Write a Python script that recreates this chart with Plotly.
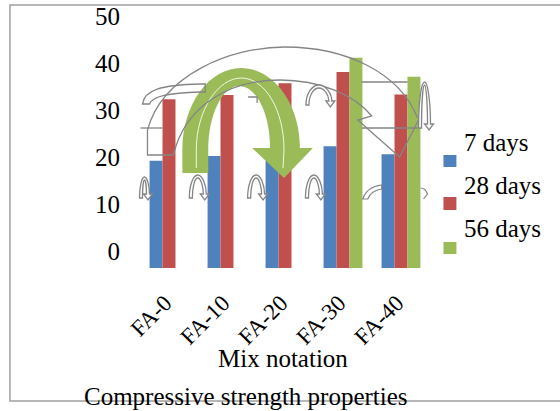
import plotly.graph_objects as go

# ---------------- data ----------------
categories = ["FA-0", "FA-10", "FA-20", "FA-30", "FA-40"]
series_names = ["7 days", "28 days", "56 days"]
strength_7d = [19.2, 20.2, 19.4, 22.3, 20.6]
strength_28d = [32.3, 33.2, 35.7, 38.1, 33.3]
strength_56d = [None, None, None, 41.1, 37.1]
y_tick_values = [0, 10, 20, 30, 40, 50]
x_title = "Mix notation"
chart_title = "Compressive strength properties"

colors = ["#4F81BD", "#C0504D", "#9BBB59"]
FONT = "Liberation Serif"
FS = 25

# ---------------- layout geometry (pixels) ----------------
W, H = 560, 411
L, R, T, B = 139.5, 430.5, 13, 268
Y_MIN, Y_MAX = -3.62, 50.64   # bars in the picture start below the "0" label


def px(x):
    return (x - L) / (R - L)


def py(y):
    return (B - y) / (B - T)


def P(x, y):
    return f"{px(x):.5f},{py(y):.5f}"


def path(*segs):
    out = []
    for s in segs:
        if isinstance(s, str):
            out.append(s)
        else:
            out.append(P(*s))
    return " ".join(out)


fig = go.Figure()
for name, vals, col in zip(series_names, [strength_7d, strength_28d, strength_56d], colors):
    fig.add_trace(go.Bar(
        x=categories,
        y=[None if v is None else v - Y_MIN for v in vals],
        base=Y_MIN,
        name=name,
        marker=dict(color=col, line=dict(width=0)),
        customdata=vals,
        hovertemplate="%{x}: %{customdata}<extra>" + name + "</extra>",
        showlegend=False,
    ))

shapes = []
GRAY = "#858585"

# big green curved arrow (with a thin gap line in its middle)
green_arrow = path("M", (182, 173), "L", (182, 150),
                   "C", (182, 104.7), (208.4, 68), (241, 68),
                   "C", (273.6, 68), (300, 103.7), (300, 148),
                   "L", (313, 148), "L", (284, 178), "L", (252, 148), "L", (270, 148),
                   "C", (270, 113), (256, 86), (239, 86),
                   "C", (222, 86), (208, 115), (208, 150),
                   "L", (208, 173), "Z")
shapes.append(dict(type="path", xref="paper", yref="paper", path=green_arrow,
                   fillcolor=colors[2], line=dict(width=0), layer="above"))
green_gap = path("M", (196, 168), "L", (196, 150),
                 "C", (196, 110), (218, 78), (241, 78),
                 "C", (265, 78), (284, 110), (284, 150), "L", (283, 168))
shapes.append(dict(type="path", xref="paper", yref="paper", path=green_gap,
                   line=dict(color="rgba(255,255,255,0.85)", width=1), layer="above"))

# big gray curved-arrow outline
big_outer = path("M", (147, 130), "C", (162, 75), (230, 47), (285, 47),
                 "C", (345, 47), (400, 72), (418, 118))
big_inner = path("M", (173, 155), "C", (185, 105), (230, 80), (280, 80),
                 "C", (320, 80), (355, 95), (372, 116),
                 "L", (358, 120), "L", (400, 157), "L", (420, 118))
big_end = path("M", (147, 130), "L", (147, 155), "L", (173, 155))
for p in [big_outer, big_inner, big_end,
          path("M", (140, 128), "L", (162, 128)),
          path("M", (362, 82), "L", (408, 82)),
          path("M", (362, 128), "L", (418, 128))]:
    shapes.append(dict(type="path", xref="paper", yref="paper", path=p,
                       line=dict(color=GRAY, width=1.3), layer="above"))

# flat curved band near top-left
flat = path("M", (142, 104), "C", (144, 90), (160, 85), (200, 84),
            "L", (205, 84), "L", (205, 92), "L", (200, 92),
            "C", (168, 93), (152, 96), (149, 104), "Z")
shapes.append(dict(type="path", xref="paper", yref="paper", path=flat,
                   line=dict(color=GRAY, width=1.3), layer="above"))
shapes.append(dict(type="path", xref="paper", yref="paper",
                   path=path("M", (248, 97), "L", (257, 97), "L", (257, 103)),
                   line=dict(color=GRAY, width=1.3), layer="above"))


def u_arrow(cx, yb, rx, ry, t=3.0):
    k = 0.5523
    ri, rh = rx - t, ry - t
    return path("M", (cx - rx, yb),
                "C", (cx - rx, yb - k * ry), (cx - k * rx, yb - ry), (cx, yb - ry),
                "C", (cx + k * rx, yb - ry), (cx + rx, yb - k * ry), (cx + rx, yb - 4),
                "L", (cx + rx + 3, yb - 4), "L", (cx + rx - 1.5, yb + 2),
                "L", (cx + ri - 3, yb - 4), "L", (cx + ri, yb - 4),
                "C", (cx + ri, yb - k * rh), (cx + k * ri, yb - rh), (cx, yb - rh),
                "C", (cx - k * ri, yb - rh), (cx - ri, yb - k * rh), (cx - ri, yb), "Z")


for cx, yb, rx, ry in [(144, 198, 5, 21), (197.5, 198, 8.5, 23), (256, 198, 8.5, 23),
                       (314, 198, 8.5, 23), (319, 105, 13, 20), (425, 128, 6, 46)]:
    shapes.append(dict(type="path", xref="paper", yref="paper", path=u_arrow(cx, yb, rx, ry),
                       fillcolor="rgba(255,255,255,0.9)", line=dict(color=GRAY, width=1.3),
                       layer="above"))

# small curved pieces near FA-40
shapes.append(dict(type="path", xref="paper", yref="paper",
                   path=path("M", (363, 199), "C", (366, 190), (373, 186), (382, 185),
                             "L", (382, 189), "C", (375, 190), (370, 194), (368, 199), "Z"),
                   fillcolor="white", line=dict(color=GRAY, width=1.2), layer="above"))
shapes.append(dict(type="path", xref="paper", yref="paper",
                   path=path("M", (421, 188), "C", (425, 188), (427, 191), (428, 194),
                             "L", (424, 199)),
                   line=dict(color=GRAY, width=1.2), layer="above"))

# outer chart border
shapes.append(dict(type="rect", xref="paper", yref="paper",
                   x0=px(9), x1=px(566), y0=py(401), y1=py(5),
                   line=dict(color="#a0a0a0", width=1.5), layer="above"))

# legend (squares sit below their labels in the picture)
legend_sq_y = [(155, 167), (197, 210), (242, 254)]
legend_txt_y = [142, 185, 228]
annotations = []
for name, col, (y0, y1), ty in zip(series_names, colors, legend_sq_y, legend_txt_y):
    shapes.append(dict(type="rect", xref="paper", yref="paper",
                       x0=px(444), x1=px(457), y0=py(y1), y1=py(y0),
                       fillcolor=col, line=dict(width=0)))
    annotations.append(dict(text=name, xref="paper", yref="paper", x=px(463), y=py(ty),
                            xanchor="left", yanchor="middle", showarrow=False,
                            font=dict(family=FONT, size=FS, color="black")))

annotations.append(dict(text=x_title, xref="paper", yref="paper", x=px(283), y=py(358),
                        xanchor="center", yanchor="middle", showarrow=False,
                        font=dict(family=FONT, size=FS, color="black")))
annotations.append(dict(text=chart_title, xref="paper", yref="paper", x=px(246), y=py(396),
                        xanchor="center", yanchor="middle", showarrow=False,
                        font=dict(family=FONT, size=FS, color="black")))

fig.update_layout(
    width=W, height=H, autosize=False,
    margin=dict(l=L, r=W - R, t=T, b=H - B, pad=0),
    paper_bgcolor="white", plot_bgcolor="white",
    barmode="group", bargap=0.33, bargroupgap=0,
    showlegend=False,
    font=dict(family=FONT, size=FS, color="black"),
    xaxis=dict(type="category", range=[-0.5, 4.5], showgrid=False, showline=False,
               zeroline=False, ticks="", tickangle=-45, ticklabelstandoff=16,
               ticklabelshift=-4, automargin=False,
               tickfont=dict(family=FONT, size=23, color="black")),
    yaxis=dict(range=[Y_MIN, Y_MAX], showgrid=False, showline=False, zeroline=False,
               tickvals=y_tick_values, ticks="", ticklabelstandoff=19,
               automargin=False,
               tickfont=dict(family=FONT, size=FS, color="black")),
    shapes=shapes,
    annotations=annotations,
)

fig.write_html("out.html", config={"displayModeBar": False})
